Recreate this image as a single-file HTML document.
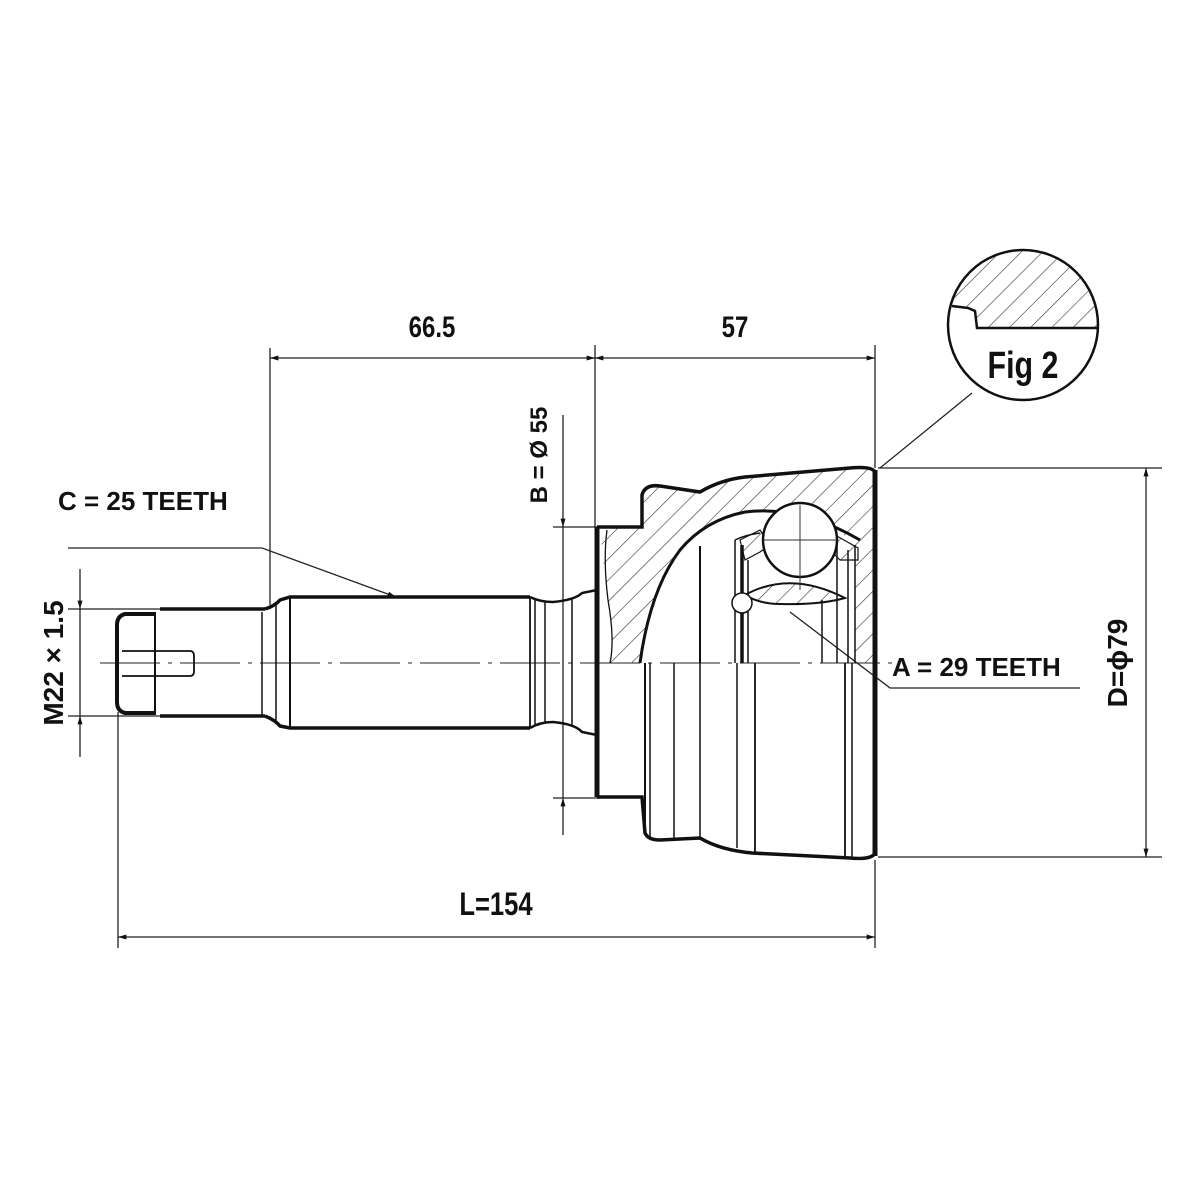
<!DOCTYPE html>
<html><head><meta charset="utf-8"><style>
html,body{margin:0;padding:0;background:#fff;}
svg{display:block;}
text{font-family:"Liberation Sans",sans-serif;fill:#111;font-weight:bold;}
</style></head><body>
<svg width="1200" height="1200" viewBox="0 0 1200 1200" xmlns="http://www.w3.org/2000/svg">
<defs>
<pattern id="h" width="15" height="15" patternUnits="userSpaceOnUse" patternTransform="rotate(45)">
<line x1="0" y1="0" x2="0" y2="15" stroke="#333" stroke-width="1.2"/>
</pattern>
<marker id="a" viewBox="0 0 10 6" refX="10" refY="3" markerWidth="14" markerHeight="5" orient="auto-start-reverse" markerUnits="userSpaceOnUse"><path d="M0,0 L10,3 L0,6z" fill="#111"/></marker>
</defs>
<rect width="1200" height="1200" fill="#fff"/>
<g stroke="#222" stroke-width="1.3" fill="none">
<line x1="270" y1="348" x2="270" y2="605"/>
<line x1="595" y1="345" x2="595" y2="527"/>
<line x1="875" y1="345" x2="875" y2="468"/>
<line x1="118" y1="712" x2="118" y2="948"/>
<line x1="875" y1="860" x2="875" y2="948"/>
<line x1="878" y1="468" x2="1162" y2="468"/>
<line x1="878" y1="857" x2="1162" y2="857"/>
<line x1="68" y1="609" x2="262" y2="609"/>
<line x1="68" y1="716" x2="262" y2="716"/>
<line x1="553" y1="527" x2="600" y2="527"/>
<line x1="553" y1="798" x2="600" y2="798"/>
<line x1="270" y1="358" x2="595" y2="358" marker-start="url(#a)" marker-end="url(#a)"/>
<line x1="595" y1="358" x2="875" y2="358" marker-start="url(#a)" marker-end="url(#a)"/>
<line x1="118" y1="937" x2="875" y2="937" marker-start="url(#a)" marker-end="url(#a)"/>
<line x1="1146" y1="468" x2="1146" y2="857" marker-start="url(#a)" marker-end="url(#a)"/>
<line x1="80" y1="569" x2="80" y2="609" marker-end="url(#a)"/>
<line x1="80" y1="609" x2="80" y2="716"/>
<line x1="80" y1="757" x2="80" y2="716" marker-end="url(#a)"/>
<line x1="563" y1="415" x2="563" y2="527" marker-end="url(#a)"/>
<line x1="563" y1="527" x2="563" y2="798"/>
<line x1="563" y1="835" x2="563" y2="798" marker-end="url(#a)"/>
<polyline points="68,548 262,548 396,597" marker-end="url(#a)"/>
<polyline points="790,612 890,688 1080,688"/>
<line x1="880" y1="468" x2="972" y2="393"/>
<line x1="100" y1="663" x2="900" y2="663" stroke-dasharray="60,8,4,8" stroke-width="1"/>
</g>

<g stroke="#111" fill="none">
<path d="M155,614 L125,614 Q117,616 117,625 L117,702 Q117,711 125,713 L155,713" stroke-width="4"/>
<line x1="155" y1="612" x2="155" y2="715" stroke-width="2"/>
<path d="M122,651 L190,651 Q194,651 194,656 L194,671 Q194,676 190,676 L122,676" stroke-width="1.8"/>
<line x1="160" y1="609" x2="265" y2="609" stroke-width="3.5"/>
<line x1="160" y1="716" x2="265" y2="716" stroke-width="3.5"/>
<line x1="262" y1="612" x2="262" y2="715" stroke-width="1.5"/>
<path d="M265,609 Q275,606 280,600 L290,597 L530,597" stroke-width="3.5"/>
<path d="M265,716 Q275,720 280,726 L290,728 L530,728" stroke-width="3.5"/>
<line x1="276" y1="602" x2="276" y2="723" stroke-width="1.5"/>
<line x1="290" y1="598" x2="290" y2="727" stroke-width="2"/>
<line x1="530" y1="597" x2="530" y2="728" stroke-width="1.8"/>
<path d="M530,597 Q540,602 553,602 Q575,600 582,593 L597,590" stroke-width="2.5"/>
<path d="M530,728 Q540,722 553,722 Q575,724 582,732 L597,735" stroke-width="2.5"/>
<line x1="535" y1="600" x2="535" y2="725" stroke-width="1.5"/>
<line x1="545" y1="602" x2="545" y2="723" stroke-width="1.5"/>
<line x1="572" y1="598" x2="572" y2="727" stroke-width="1.5"/>
</g>

<path d="M600,527 L642,527 L642,490 Q650,484 665,486 L700,492 Q730,478 755,476 L855,468 Q875,466 875,480 L875,663 L855,663 L855,545 Q830,520 790,510 L740,512 Q700,525 680,550 Q650,590 640,663 L610,663 Q615,640 608,600 Q603,560 600,527z" fill="url(#h)" stroke="none"/>
<g stroke="#111" fill="none">
<line x1="597" y1="527" x2="597" y2="797" stroke-width="5"/>
<path d="M597,527 L642,527 L642,495 Q645,484 660,486 L700,492 Q720,480 745,477 L850,468 Q872,466 875,472" stroke-width="3.5"/>
<path d="M597,797 L642,797 L645,833 Q648,840 660,840 L700,838 Q720,850 752,853 L850,858 Q872,860 875,853" stroke-width="3.5"/>
<line x1="875" y1="470" x2="875" y2="856" stroke-width="5"/>
<path d="M610,663 Q615,640 608,600 Q603,560 607,530" stroke-width="1.3"/>
<path d="M640,663 Q650,590 680,550 Q705,520 745,512 Q800,505 860,540" stroke-width="3"/>
<path d="M700,546 L700,663" stroke-width="2"/>
<path d="M735,540 Q745,535 760,533" stroke-width="1.5"/>
<line x1="735" y1="540" x2="735" y2="663" stroke-width="1.5"/>
<line x1="742" y1="545" x2="742" y2="663" stroke-width="3.5"/>
<line x1="748" y1="560" x2="748" y2="663" stroke-width="1.5"/>
<line x1="822" y1="600" x2="822" y2="663" stroke-width="1.5"/>
<line x1="837" y1="545" x2="837" y2="663" stroke-width="1.5"/>
<line x1="848" y1="550" x2="848" y2="663" stroke-width="1.5"/>
<line x1="855" y1="545" x2="855" y2="663" stroke-width="1.5"/>
</g>
<path d="M740,540 L760,530 L770,545 L760,552 L745,560z" fill="url(#h)" stroke="#111" stroke-width="1.2"/>
<path d="M835,535 L858,548 L858,560 L840,560 L830,550z" fill="url(#h)" stroke="#111" stroke-width="1.2"/>
<path d="M745,595 Q790,570 845,598 Q820,605 780,604 Q760,604 745,595z" fill="url(#h)" stroke="#111" stroke-width="2"/>
<circle cx="742" cy="603" r="10" fill="#fff" stroke="#111" stroke-width="1.5"/>
<circle cx="800" cy="540" r="37" fill="#fff" stroke="#111" stroke-width="2.5"/>
<line x1="800" y1="505" x2="800" y2="590" stroke="#333" stroke-width="1"/>
<line x1="763" y1="540" x2="837" y2="540" stroke="#333" stroke-width="1"/>
<g stroke="#111" fill="none">
<line x1="645" y1="663" x2="645" y2="835" stroke-width="2"/>
<line x1="650" y1="663" x2="650" y2="838" stroke-width="1.5"/>
<line x1="674" y1="663" x2="674" y2="838" stroke-width="1.5"/>
<line x1="700" y1="663" x2="700" y2="840" stroke-width="1.5"/>
<line x1="737" y1="663" x2="737" y2="848" stroke-width="1.5"/>
<line x1="755" y1="663" x2="755" y2="853" stroke-width="1.8"/>
<line x1="845" y1="663" x2="845" y2="857" stroke-width="1.8"/>
<line x1="852" y1="663" x2="852" y2="857" stroke-width="1.5"/>
</g>

<clipPath id="fc"><circle cx="1023" cy="325" r="75"/></clipPath>
<path d="M940,250 L1110,250 L1110,328 L978,328 L975,308 L940,308z" fill="url(#h)" clip-path="url(#fc)"/>
<path d="M952,306 L968,308 L975,311 L977,328 L1098,328" fill="none" stroke="#111" stroke-width="2.5" clip-path="url(#fc)"/>
<circle cx="1023" cy="325" r="75" fill="none" stroke="#111" stroke-width="2.5"/>
<text x="1023" y="378" font-size="38" text-anchor="middle" transform="translate(1023,0) scale(0.8,1) translate(-1023,0)">Fig 2</text>

<text x="432" y="337" font-size="30" text-anchor="middle" transform="translate(432,0) scale(0.8,1) translate(-432,0)">66.5</text>
<text x="735" y="337" font-size="30" text-anchor="middle" transform="translate(735,0) scale(0.8,1) translate(-735,0)">57</text>
<text x="496" y="915" font-size="32" text-anchor="middle" transform="translate(496,0) scale(0.8,1) translate(-496,0)">L=154</text>
<text x="58" y="510" font-size="26">C = 25 TEETH</text>
<text x="892" y="676" font-size="26">A = 29 TEETH</text>
<text transform="translate(63,663) rotate(-90)" font-size="28" text-anchor="middle">M22 × 1.5</text>
<text transform="translate(547,455) rotate(-90)" font-size="24" text-anchor="middle">B = Ø 55</text>
<text transform="translate(1127,663) rotate(-90)" font-size="28" text-anchor="middle">D=ϕ79</text>
</svg>
</body></html>
